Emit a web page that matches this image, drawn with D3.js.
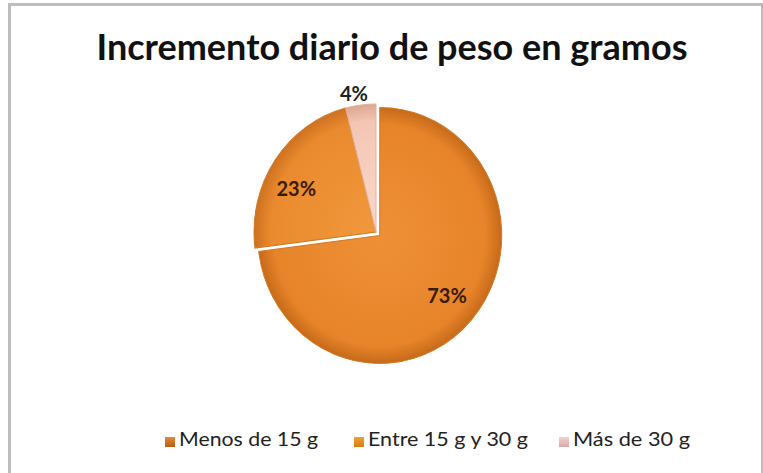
<!DOCTYPE html>
<html><head><meta charset="utf-8">
<script src="https://cdn.jsdelivr.net/npm/d3@7/dist/d3.min.js"></script>
<style>body{margin:0;background:#fff}svg{display:block}</style>
</head><body>
<svg id="c" width="763" height="473"></svg>
<script>
const categories = ["Menos de 15 g", "Entre 15 g y 30 g", "Más de 30 g"];
const values = [73, 23, 4];
const labels = ["73%", "23%", "4%"];
const title = "Incremento diario de peso en gramos";

const svg = d3.select("#c");
svg.append("rect").attr("x",9.5).attr("y",4.5).attr("width",753).attr("height",475)
  .attr("fill","#fff").attr("stroke","#bdbdbd").attr("stroke-width",3);

svg.append("text").attr("x",392).attr("y",60).attr("text-anchor","middle")
  .attr("font-family","Lato, 'Open Sans', sans-serif").attr("font-weight","bold")
  .attr("font-size",36).attr("fill","#111")
  .attr("textLength",591).attr("lengthAdjust","spacingAndGlyphs").text(title);

const defs = svg.append("defs");
const grads = [["#EF9036","#E7842A","#C46818"],["#F1983C","#EA8A2E","#CB7020"],["#FAD9CB","#F3C6B3","#DDA48E"]];
grads.forEach((g,i)=>{
  const rg = defs.append("radialGradient").attr("id","g"+i).attr("gradientUnits","userSpaceOnUse")
    .attr("cx",0).attr("cy",0).attr("r",123);
  rg.append("stop").attr("offset","0%").attr("stop-color",g[0]);
  rg.append("stop").attr("offset","86%").attr("stop-color",g[1]);
  rg.append("stop").attr("offset","100%").attr("stop-color",g[2]);
});
const lg = [["#E08A3A","#B85E14"],["#F0A030","#D87E12"],["#F4D0D0","#D8A8A8"]];
lg.forEach((g,i)=>{
  const l = defs.append("linearGradient").attr("id","l"+i).attr("x1",0).attr("y1",0).attr("x2",0).attr("y2",1);
  l.append("stop").attr("offset","0%").attr("stop-color",g[0]);
  l.append("stop").attr("offset","100%").attr("stop-color",g[1]);
});

const cx = 376, cy = 232, rx = 122, ry = 128;
const pie = d3.pie().sort(null).value(d=>d);
const arcs = pie(values);
const arc = d3.arc().innerRadius(0).outerRadius(rx);
const explode = [5,0,0];
const g = svg.append("g").attr("transform",`translate(${cx},${cy}) scale(1,${ry/rx})`);
g.selectAll("path").data(arcs).enter().append("path")
  .attr("d",arc)
  .attr("transform",(d,i)=>{const a=(d.startAngle+d.endAngle)/2;return `translate(${Math.sin(a)*explode[i]},${-Math.cos(a)*explode[i]})`;})
  .attr("fill",(d,i)=>`url(#g${i})`)
  .attr("stroke",(d,i)=>i==2?"#E6B19C":"#D27A26").attr("stroke-width",1);

// label placement factors along the slice bisector (x and y)
const lrx = [0.735, 0.79, 1.44];
const lry = [0.72, 0.60, 1.087];
arcs.forEach((d,i)=>{
  const a=(d.startAngle+d.endAngle)/2;
  const x = cx + Math.sin(a)*rx*lrx[i] + explode[i]*Math.sin(a);
  const y = cy - Math.cos(a)*ry*lry[i] - explode[i]*Math.cos(a);
  svg.append("text").attr("x",x).attr("y",y).attr("text-anchor","middle").attr("dy","0.35em")
    .attr("font-family","Lato, 'Open Sans', sans-serif").attr("font-weight","bold").attr("font-size",20)
    .attr("fill", i==2?"#222":"#3a1c05").text(labels[i]);
});

const legX = [165, 354, 559];
const legW = [139, 160, 117];
categories.forEach((c,i)=>{
  svg.append("rect").attr("x",legX[i]).attr("y",437).attr("width",10).attr("height",10)
    .attr("fill",`url(#l${i})`);
  svg.append("text").attr("x",legX[i]+14).attr("y",446)
    .attr("font-family","Lato, 'Open Sans', sans-serif").attr("font-size",20).attr("fill","#222")
    .attr("textLength",legW[i]).attr("lengthAdjust","spacingAndGlyphs").text(c);
});
</script>
</body></html>
